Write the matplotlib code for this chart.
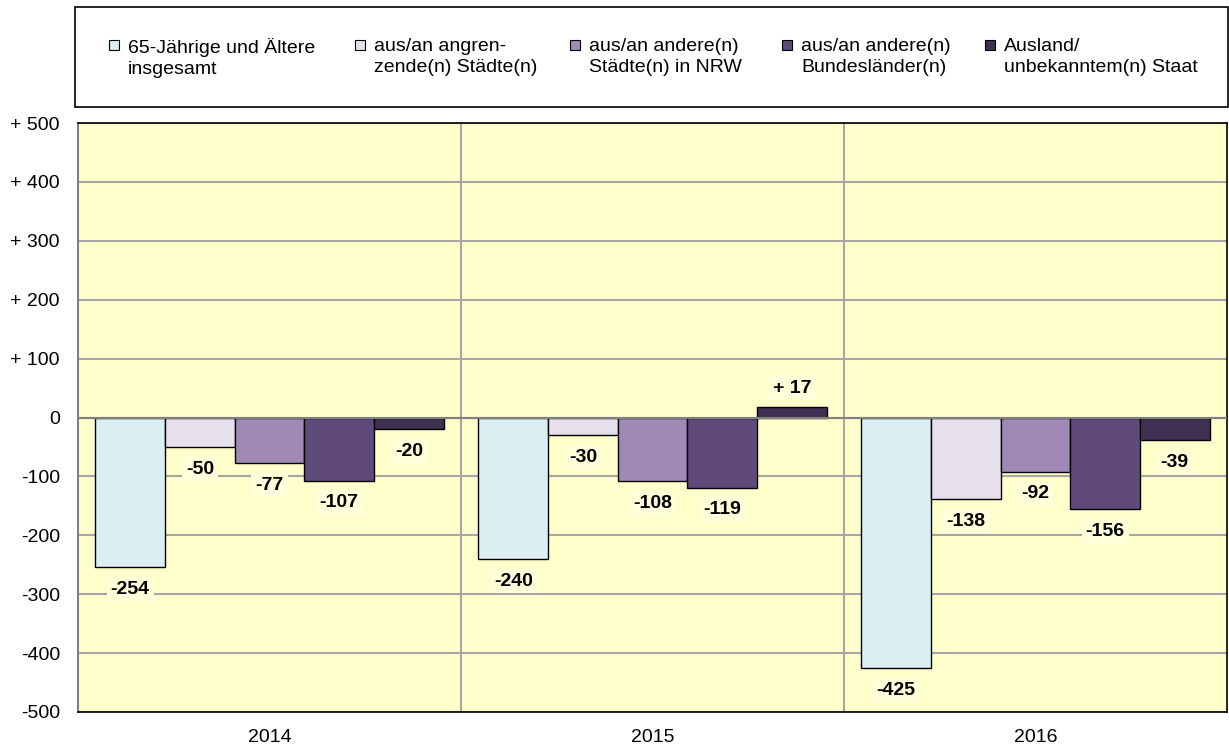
"""Wanderungssaldo der 65-Jährigen und Älteren nach Herkunfts-/Zielgebiet, 2014-2016."""
import numpy as np
import matplotlib
matplotlib.use("Agg")
import matplotlib.pyplot as plt
from matplotlib.patches import Rectangle

plt.rcParams["font.family"] = ["Liberation Sans", "DejaVu Sans"]
plt.rcParams["font.size"] = 14

# ---------------------------------------------------------------------------
# Data
# ---------------------------------------------------------------------------
years = ["2014", "2015", "2016"]
series_names = [
    "65-Jährige und Ältere\ninsgesamt",
    "aus/an angren-\nzende(n) Städte(n)",
    "aus/an andere(n)\nStädte(n) in NRW",
    "aus/an andere(n)\nBundesländer(n)",
    "Ausland/\nunbekanntem(n) Staat",
]
insgesamt = [-254, -240, -425]
angrenzende = [-50, -30, -138]
andere_nrw = [-77, -108, -92]
bundeslaender = [-107, -119, -156]
ausland = [-20, 17, -39]
series_values = [insgesamt, angrenzende, andere_nrw, bundeslaender, ausland]

colours = ["#DAEEF3", "#E5E0EC", "#A08AB5", "#604A7B", "#403152"]
y_ticks = list(range(-500, 501, 100))

# legend layout (pixel x of each marker)
legend_x = [109, 355, 570, 782, 985]

# ---------------------------------------------------------------------------
# Figure
# ---------------------------------------------------------------------------
W, H = 1229, 746
fig = plt.figure(figsize=(W / 100, H / 100), dpi=100)
ax = fig.add_axes([78 / W, 1 - 712 / H, (1227 - 78) / W, (712 - 123) / H])
ax.set_facecolor("#FFFFCC")

x = np.arange(len(years))
width = 1 / 5.5
n = len(series_values)
for i, (vals, col) in enumerate(zip(series_values, colours)):
    b = ax.bar(x + (i - (n - 1) / 2) * width, vals, width=width, color=col,
               edgecolor="black", linewidth=1.0, zorder=3)
    for rect, v in zip(b, vals):
        off = 14 if v > 0 else -16
        lab = f"+ {v}" if v > 0 else f"{v}"
        ax.annotate(lab, (rect.get_x() + rect.get_width() / 2, v),
                    xytext=(0, off), textcoords="offset points",
                    ha="center", va="center", fontsize=14, fontweight="bold",
                    bbox=dict(boxstyle="square,pad=0.2", facecolor="#FFFFD9",
                              edgecolor="none"),
                    zorder=4)

ax.axhline(0, color="#808080", linewidth=1.5, zorder=3.5)

ax.set_xlim(-0.5, len(years) - 0.5)
ax.set_ylim(-500, 500)
ax.set_yticks(y_ticks)
ax.set_yticklabels([f"+ {t}" if t > 0 else f"{t}" for t in y_ticks])
ax.set_xticks(x)
ax.set_xticklabels(years)
ax.tick_params(axis="y", length=0, pad=13, labelsize=14)
ax.tick_params(axis="x", length=0, pad=12, labelsize=14)

# gridlines: horizontal at ticks, vertical between categories
for t in y_ticks:
    ax.axhline(t, color="#A6A6A6", linewidth=1.5, zorder=1)
for xb in x[:-1] + 0.5:
    ax.axvline(xb, color="#A6A6A6", linewidth=1.5, zorder=1)

for side in ["top", "right", "bottom"]:
    ax.spines[side].set_color("black")
    ax.spines[side].set_linewidth(1.2)
ax.spines["left"].set_color("#808080")
ax.spines["left"].set_linewidth(1.5)

# ---------------------------------------------------------------------------
# Legend box (drawn by hand so the marker sits next to the first line)
# ---------------------------------------------------------------------------
fig.patches.append(Rectangle((75 / W, 1 - 107 / H), (1228 - 75) / W, 100 / H,
                             transform=fig.transFigure, facecolor="white",
                             edgecolor="black", linewidth=1.2))
for name, col, x_px in zip(series_names, colours, legend_x):
    fig.patches.append(Rectangle((x_px / W, 1 - 50 / H), 10 / W, 10 / H,
                                 transform=fig.transFigure, facecolor=col,
                                 edgecolor="black", linewidth=0.8))
    fig.text((x_px + 19) / W, 1 - 38 / H, name, ha="left", va="top",
             fontsize=14, linespacing=1.3)

fig.savefig("out.png", dpi=100)
